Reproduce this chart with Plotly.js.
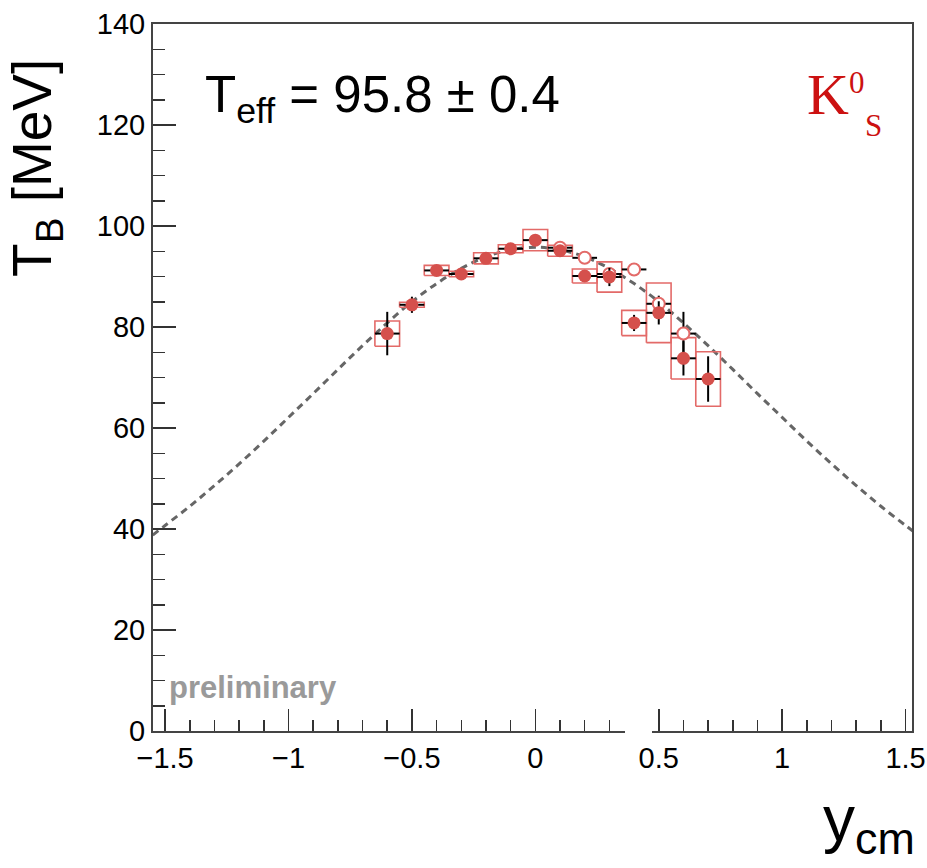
<!DOCTYPE html>
<html>
<head>
<meta charset="utf-8">
<script src="https://cdn.plot.ly/plotly-3.0.1.min.js"></script>
<style>html,body{margin:0;padding:0;background:#fff;}#chart{width:927px;height:868px;}</style>
</head>
<body>
<div id="chart"></div>
<script>
// Measured points (filled)
var yFilled = [-0.6, -0.5, -0.4, -0.3, -0.2, -0.1, 0.0, 0.1, 0.2, 0.3, 0.4, 0.5, 0.6, 0.7];
var tFilled = [78.7, 84.4, 91.2, 90.5, 93.6, 95.5, 97.2, 95.1, 90.1, 89.9, 80.8, 82.8, 73.8, 69.7];
var statFilled = [4.3, 1.6, 0.5, 0.5, 0.5, 0.5, 0.5, 0.5, 0.5, 1.8, 1.6, 2.3, 3.4, 4.5];
var sysFilled = [2.5, 0.5, 1.0, 0.55, 1.1, 0.8, 2.1, 1.1, 1.4, 3.0, 2.5, 5.9, 4.1, 5.4];
var binHalf = 0.05;
// Reflected points (open)
var yOpen = [0.1, 0.2, 0.3, 0.4, 0.5, 0.6];
var tOpen = [95.7, 93.7, 90.5, 91.4, 84.6, 78.7];
var statOpen = [0.5, 0.5, 0.5, 0.5, 1.6, 4.3];
// Fit curve
var yCurve = [-1.55, -1.5, -1.4, -1.3, -1.2, -1.1, -1.0, -0.9, -0.8, -0.7, -0.6, -0.5, -0.4, -0.3, -0.2, -0.1, 0.0,
              0.1, 0.2, 0.3, 0.4, 0.5, 0.6, 0.7, 0.8, 0.9, 1.0, 1.1, 1.2, 1.3, 1.4, 1.5, 1.55];
var tCurve = [38.8, 40.7, 44.5, 48.6, 52.9, 57.4, 62.1, 66.8, 71.6, 76.3, 80.8, 85.0, 88.6, 91.6, 93.9, 95.3, 95.8,
              95.3, 93.9, 91.6, 88.6, 85.0, 80.8, 76.3, 71.6, 66.8, 62.1, 57.4, 52.9, 48.6, 44.5, 40.7, 38.8];
var xTicks = [-1.5, -1, -0.5, 0, 0.5, 1, 1.5];
var yTicks = [0, 20, 40, 60, 80, 100, 120, 140];

// systematic boxes built from data
var bx = [], by = [];
for (var i = 0; i < yFilled.length; i++) {
  var x0 = yFilled[i] - binHalf, x1 = yFilled[i] + binHalf;
  var y0 = tFilled[i] - sysFilled[i], y1 = tFilled[i] + sysFilled[i];
  bx.push(x0, x1, x1, x0, x0, null);
  by.push(y0, y0, y1, y1, y0, null);
}
var red = '#d5504c';
var traces = [
  {x: yCurve, y: tCurve, mode: 'lines', line: {color: '#666666', width: 3, dash: '7px,5px', shape: 'spline'}, hoverinfo: 'skip'},
  {x: bx, y: by, mode: 'lines', line: {color: '#e36a68', width: 1.6}, hoverinfo: 'skip'},
  {x: yOpen, y: tOpen, mode: 'markers',
   marker: {symbol: 'circle', size: 12, color: '#ffffff', line: {color: '#e36a68', width: 2}},
   error_y: {type: 'data', array: statOpen, color: '#000', thickness: 2, width: 0},
   error_x: {type: 'constant', value: binHalf, color: '#000', thickness: 2, width: 0}},
  {x: yFilled, y: tFilled, mode: 'markers',
   marker: {symbol: 'circle', size: 13, color: red},
   error_y: {type: 'data', array: statFilled, color: '#000', thickness: 2, width: 0},
   error_x: {type: 'constant', value: binHalf, color: '#000', thickness: 2, width: 0}}
];

var W = 759, H = 707.5, L = 153, T = 24;
function px(x) { return (x - L) / W; }
function py(y) { return (T + H - y) / H; }

var layout = {
  width: 927, height: 868,
  margin: {l: 153, r: 15, t: 24, b: 136.5, pad: 0},
  paper_bgcolor: '#fff', plot_bgcolor: '#fff',
  showlegend: false,
  font: {family: 'Liberation Sans, Arial, sans-serif', color: '#000'},
  xaxis: {
    range: [-1.549, 1.526], tickmode: 'array', tickvals: xTicks,
    ticks: 'inside', ticklen: 22, tickwidth: 1.5, tickcolor: '#333',
    minor: {dtick: 0.1, ticks: 'inside', ticklen: 11, tickwidth: 1.5, tickcolor: '#333'},
    showline: true, linecolor: '#444', linewidth: 2, mirror: true,
    showgrid: false, zeroline: false,
    tickfont: {size: 29, family: 'Liberation Sans, Arial, sans-serif'}
  },
  yaxis: {
    range: [0, 140], tickmode: 'array', tickvals: yTicks,
    ticks: 'inside', ticklen: 23, tickwidth: 1.5, tickcolor: '#333',
    minor: {dtick: 5, ticks: 'inside', ticklen: 12, tickwidth: 1.5, tickcolor: '#333'},
    showline: true, linecolor: '#444', linewidth: 2, mirror: true,
    showgrid: false, zeroline: false,
    tickfont: {size: 29, family: 'Liberation Sans, Arial, sans-serif'}
  },
  shapes: [
    {type: 'rect', xref: 'paper', yref: 'paper', x0: px(625), x1: px(652), y0: py(736), y1: py(704),
     fillcolor: '#fff', line: {width: 0}, layer: 'above'}
  ],
  annotations: [
    {xref: 'paper', yref: 'paper', x: px(36), y: py(168), xanchor: 'center', yanchor: 'middle',
     text: 'T<sub>B</sub> [MeV]', textangle: -90, showarrow: false,
     font: {size: 55, family: 'Liberation Sans, Arial, sans-serif', color: '#000'}},
    {xref: 'paper', yref: 'paper', x: px(917), y: py(824), xanchor: 'right', yanchor: 'middle',
     text: 'y<sub>cm</sub>', showarrow: false,
     font: {size: 64, family: 'Liberation Sans, Arial, sans-serif', color: '#000'}},
    {xref: 'paper', yref: 'paper', x: px(203), y: py(99), xanchor: 'left', yanchor: 'middle',
     text: 'T<sub>eff</sub> = 95.8 ± 0.4', showarrow: false,
     font: {size: 51, family: 'Liberation Sans, Arial, sans-serif', color: '#000'}},
    {xref: 'paper', yref: 'paper', x: px(806), y: py(95), xanchor: 'left', yanchor: 'middle',
     text: 'K', showarrow: false, borderpad: 0,
     font: {size: 58, family: 'Liberation Serif, Times New Roman, serif', color: '#cc1111'}},
    {xref: 'paper', yref: 'paper', x: px(848), y: py(83), xanchor: 'left', yanchor: 'middle',
     text: '0', showarrow: false, borderpad: 0,
     font: {size: 31, family: 'Liberation Serif, Times New Roman, serif', color: '#cc1111'}},
    {xref: 'paper', yref: 'paper', x: px(864), y: py(126), xanchor: 'left', yanchor: 'middle',
     text: 'S', showarrow: false, borderpad: 0,
     font: {size: 31, family: 'Liberation Serif, Times New Roman, serif', color: '#cc1111'}},
    {xref: 'paper', yref: 'paper', x: px(167), y: py(688), xanchor: 'left', yanchor: 'middle',
     text: '<b>preliminary</b>', showarrow: false,
     font: {size: 31, family: 'Liberation Sans, Arial, sans-serif', color: '#9a9a9a'}}
  ]
};
Plotly.newPlot('chart', traces, layout, {displayModeBar: false, staticPlot: true});
</script>
</body>
</html>
